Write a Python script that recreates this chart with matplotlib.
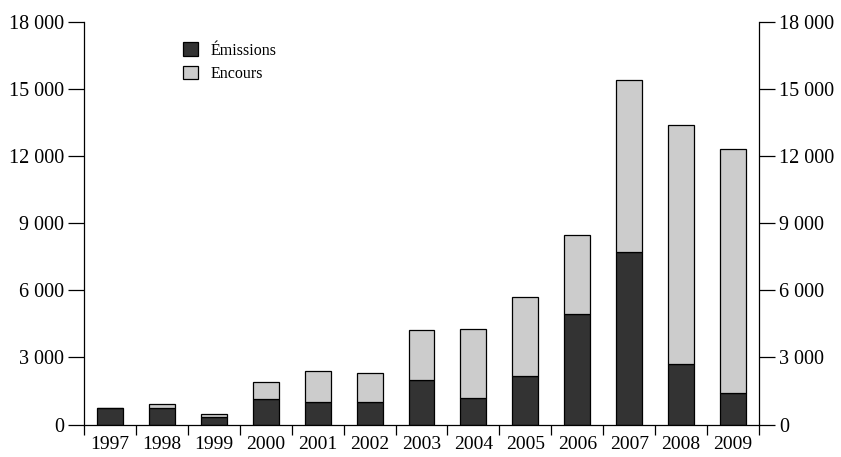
import matplotlib.pyplot as plt
import numpy as np
from matplotlib.ticker import FuncFormatter, FixedLocator

plt.rcParams['font.family'] = ['Liberation Serif', 'DejaVu Serif']

years = ['1997', '1998', '1999', '2000', '2001', '2002', '2003',
         '2004', '2005', '2006', '2007', '2008', '2009']
emissions = [720, 730, 330, 1130, 990, 1010, 2010, 1180, 2150, 4960, 7730, 2730, 1390]
totals = [720, 900, 490, 1890, 2400, 2320, 4210, 4270, 5700, 8490, 15400, 13420, 12310]
encours = [t - e for t, e in zip(totals, emissions)]

fig = plt.figure(figsize=(8.41, 4.57), dpi=100)
ax = fig.add_axes([0.0999, 0.0711, 0.8026, 0.8801])

x = np.arange(len(years))
ax.bar(x, emissions, width=0.5, color='#333333', edgecolor='black', linewidth=0.9, label='Émissions')
ax.bar(x, encours, width=0.5, bottom=emissions, color='#cccccc', edgecolor='black',
       linewidth=0.9, label='Encours')

ax.set_xlim(-0.5, len(years) - 0.5)
ax.set_ylim(0, 18000)
ax.set_yticks(np.arange(0, 18001, 3000))
ax.yaxis.set_major_formatter(FuncFormatter(lambda v, p: f'{int(v):,}'.replace(',', ' ')))

ax.set_xticks(x)
ax.set_xticklabels(years)
ax.xaxis.set_minor_locator(FixedLocator(np.arange(-0.5, len(years), 1.0)))
ax.tick_params(axis='x', which='major', length=0, pad=8, labelsize=14)
ax.tick_params(axis='x', which='minor', length=7.5, width=0.9, direction='out')
ax.tick_params(axis='y', which='major', length=11.5, width=0.9, direction='out', pad=3,
               labelsize=14.5, left=True, right=True, labelleft=True, labelright=True)

ax.spines['top'].set_visible(False)
for s in ['left', 'right', 'bottom']:
    ax.spines[s].set_linewidth(0.9)

ax.legend(loc='upper left', bbox_to_anchor=(0.147, 0.95), frameon=False, fontsize=11.5,
          handlelength=0.9, handleheight=0.9, handletextpad=0.8, labelspacing=0.45,
          borderpad=0, borderaxespad=0)

fig.savefig('out.png', dpi=100)
